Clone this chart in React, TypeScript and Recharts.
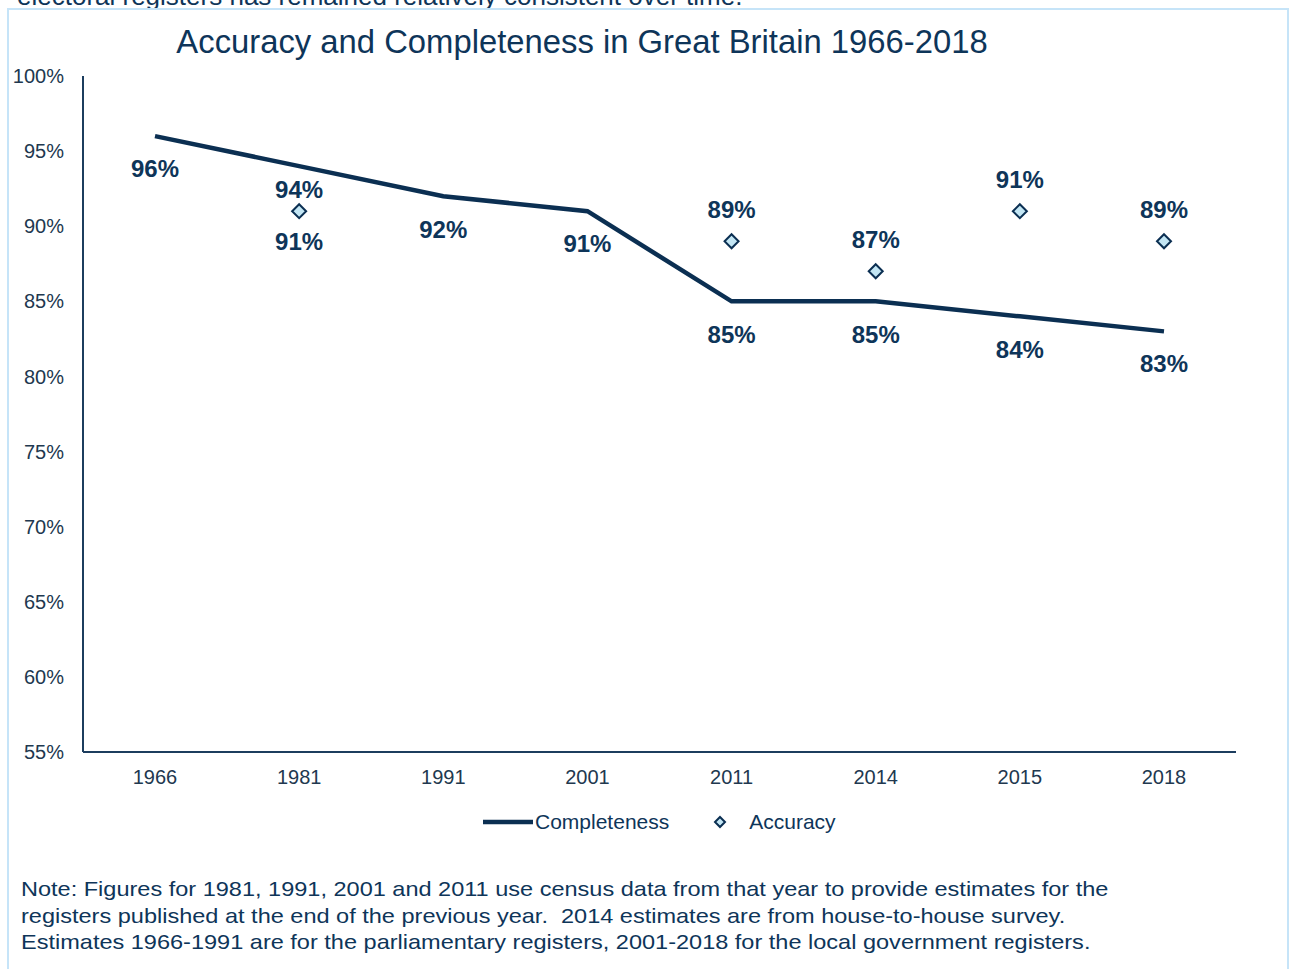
import React from "react";
import {
  ComposedChart,
  Line,
  XAxis,
  YAxis,
} from "recharts";

const YEARS = ["1966", "1981", "1991", "2001", "2011", "2014", "2015", "2018"];
const COMPLETENESS = [96, 94, 92, 91, 85, 85, 84, 83];
const ACCURACY: Array<number | null> = [null, 91, null, null, 89, 87, 91, 89];
const Y_TICKS = [55, 60, 65, 70, 75, 80, 85, 90, 95, 100];

// label placement (pixels below/above the point), kept apart from the data
const COMPLETE_LABEL_DY = [32, 23, 33, 32, 33, 33, 33, 32];
const ACCURACY_LABEL_DY = [0, 30, 0, 0, -32, -32, -32, -32];

const NAVY = "#0b2f52";
const TEXT = "#0e3559";
const DIAMOND_FILL = "#c3e6f4";
const FONT = "'Liberation Sans', Arial, sans-serif";

const data = YEARS.map((year, i) => ({
  year,
  completeness: COMPLETENESS[i],
  accuracy: ACCURACY[i],
}));

function Diamond(props: any) {
  const { cx, cy, value } = props;
  if (value == null || cy == null) return <g key={props.key} />;
  const r = 7;
  return (
    <path
      key={props.key}
      d={`M${cx},${cy - r} L${cx + r},${cy} L${cx},${cy + r} L${cx - r},${cy} Z`}
      fill={DIAMOND_FILL}
      stroke={NAVY}
      strokeWidth={2}
    />
  );
}

function makeLabel(offsets: number[]) {
  return (props: any) => {
    const { x, y, value, index } = props;
    if (value == null) return null;
    return (
      <text
        key={`l-${index}`}
        x={x}
        y={y + offsets[index]}
        textAnchor="middle"
        dominantBaseline="central"
        fill={TEXT}
        fontSize={24}
        fontWeight="bold"
        fontFamily={FONT}
      >
        {`${value}%`}
      </text>
    );
  };
}

export default function App() {
  return (
    <div
      style={{
        position: "absolute",
        left: 0,
        top: 0,
        width: 1289,
        height: 969,
        overflow: "hidden",
        background: "#fff",
        fontFamily: FONT,
      }}
    >
      <div
        style={{
          position: "absolute",
          left: 17,
          top: -17,
          fontSize: 26,
          lineHeight: "26px",
          color: TEXT,
          whiteSpace: "nowrap",
        }}
      >
        electoral registers has remained relatively consistent over time.
      </div>
      <div
        style={{
          position: "absolute",
          left: 7,
          top: 8,
          width: 1278,
          height: 1000,
          border: "2px solid #c6e4f8",
          background: "#fff",
        }}
      />
      <div
        style={{
          position: "absolute",
          left: 0,
          top: 26,
          width: 1164,
          textAlign: "center",
          fontSize: 32.8,
          lineHeight: "32px",
          color: TEXT,
        }}
      >
        Accuracy and Completeness in Great Britain 1966-2018
      </div>
      <div style={{ position: "absolute", left: 0, top: 0 }}>
        <ComposedChart
          width={1289}
          height={800}
          data={data}
          margin={{ top: 76, right: 53, bottom: 8, left: 0 }}
        >
          <XAxis
            dataKey="year"
            height={40}
            padding={{ left: 72, right: 72 }}
            tickLine={false}
            tickSize={0}
            tickMargin={18}
            axisLine={{ stroke: "#1c3d5e", strokeWidth: 2 }}
            tick={{ fontSize: 20, fill: "#21384f", fontFamily: FONT }}
          />
          <YAxis
            width={83}
            domain={[55, 100]}
            ticks={Y_TICKS}
            interval={0}
            tickFormatter={(v: number) => `${v}%`}
            tickLine={false}
            tickSize={0}
            tickMargin={19}
            axisLine={{ stroke: "#1c3d5e", strokeWidth: 2 }}
            tick={{ fontSize: 20, fill: "#21384f", fontFamily: FONT }}
          />
          <Line
            dataKey="completeness"
            name="Completeness"
            type="linear"
            stroke={NAVY}
            strokeWidth={4.5}
            dot={false}
            activeDot={false}
            isAnimationActive={false}
            label={makeLabel(COMPLETE_LABEL_DY)}
          />
          <Line
            dataKey="accuracy"
            name="Accuracy"
            stroke="none"
            connectNulls={false}
            dot={Diamond}
            activeDot={false}
            isAnimationActive={false}
            label={makeLabel(ACCURACY_LABEL_DY)}
          />
        </ComposedChart>
      </div>
      <div
        style={{
          position: "absolute",
          left: 483,
          top: 809,
          display: "flex",
          alignItems: "center",
          fontSize: 21,
          lineHeight: "26px",
          color: TEXT,
          whiteSpace: "nowrap",
        }}
      >
        <svg width={50} height={10}>
          <line x1={0} y1={5} x2={50} y2={5} stroke={NAVY} strokeWidth={4.5} strokeLinecap="round" />
        </svg>
        <span style={{ marginLeft: 2 }}>Completeness</span>
        <svg width={14} height={14} style={{ marginLeft: 44 }}>
          <path d="M7,2 L12,7 L7,12 L2,7 Z" fill={DIAMOND_FILL} stroke={NAVY} strokeWidth={2} />
        </svg>
        <span style={{ marginLeft: 22 }}>Accuracy</span>
      </div>
      <div
        style={{
          position: "absolute",
          left: 21,
          top: 876,
          fontSize: 21,
          lineHeight: "26.5px",
          color: TEXT,
          whiteSpace: "nowrap",
          transform: "scaleX(1.12)",
          transformOrigin: "left top",
        }}
      >
        <div>
          Note: Figures for 1981, 1991, 2001 and 2011 use census data from that year to provide estimates for the
        </div>
        <div>
          registers published at the end of the previous year.&nbsp; 2014 estimates are from house-to-house survey.
        </div>
        <div>
          Estimates 1966-1991 are for the parliamentary registers, 2001-2018 for the local government registers.
        </div>
      </div>
    </div>
  );
}
